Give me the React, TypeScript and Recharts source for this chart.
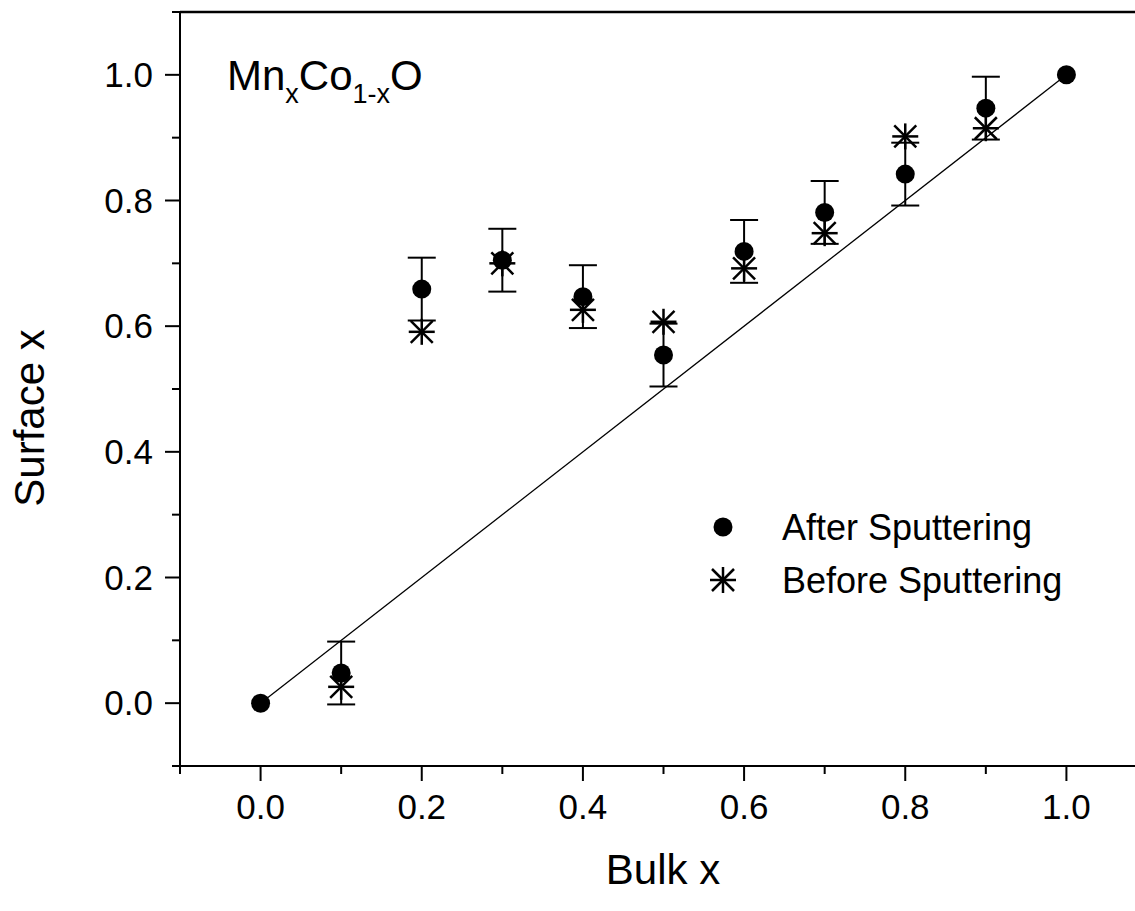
import { ScatterChart, Scatter, XAxis, YAxis, ErrorBar, ReferenceLine, Legend, Customized } from 'recharts'

const bulkX = [0.1, 0.2, 0.3, 0.4, 0.5, 0.6, 0.7, 0.8, 0.9]
const afterY = [0.048, 0.659, 0.705, 0.647, 0.554, 0.719, 0.781, 0.842, 0.947]
const afterErr = [0.05, 0.05, 0.05, 0.05, 0.05, 0.05, 0.05, 0.05, 0.05]
const beforeY = [0.026, 0.591, 0.7, 0.626, 0.607, 0.692, 0.748, 0.902, 0.915]
const endX = [0, 1.0]
const endY = [0, 1.0]
const fitX = [0, 1]
const fitY = [0, 1]
const axisTicks = [-0.1, 0, 0.1, 0.2, 0.3, 0.4, 0.5, 0.6, 0.7, 0.8, 0.9, 1.0, 1.1]
const seriesNames = ['After Sputtering', 'Before Sputtering']

const afterData = bulkX.map((x, i) => ({ x, y: afterY[i], err: afterErr[i] }))
const beforeData = bulkX.map((x, i) => ({ x, y: beforeY[i] }))
const endData = endX.map((x, i) => ({ x, y: endY[i] }))
const fitSegment = fitX.map((x, i) => ({ x, y: fitY[i] }))

const font = '"Liberation Sans", Arial, Helvetica, sans-serif'
const isMajor = (v: number) => Math.round(v * 10) % 2 === 0

function XTick({ x, y, payload }: any) {
  const major = isMajor(payload.value)
  return (
    <g>
      <line x1={x} x2={x} y1={y} y2={y + (major ? 15 : 8)} stroke="#000" strokeWidth={2} />
      {major && (
        <text x={x} y={y + 53} textAnchor="middle" fontSize={35} fontFamily={font} fill="#000">
          {payload.value.toFixed(1)}
        </text>
      )}
    </g>
  )
}

function YTick({ x, y, payload }: any) {
  const major = isMajor(payload.value)
  return (
    <g>
      <line x1={x - (major ? 15 : 8)} x2={x} y1={y} y2={y} stroke="#000" strokeWidth={2} />
      {major && (
        <text x={x - 27} y={y + 12} textAnchor="end" fontSize={35} fontFamily={font} fill="#000">
          {payload.value.toFixed(1)}
        </text>
      )}
    </g>
  )
}

function Dot({ cx, cy }: any) {
  return <circle cx={cx} cy={cy} r={9.5} fill="#000" />
}

function Star({ cx, cy }: any) {
  return (
    <g stroke="#000" strokeWidth={2.5}>
      <line x1={cx - 13} x2={cx + 13} y1={cy} y2={cy} />
      <line x1={cx} x2={cx} y1={cy - 13} y2={cy + 13} />
      <line x1={cx - 11} x2={cx + 11} y1={cy - 11} y2={cy + 11} />
      <line x1={cx - 11} x2={cx + 11} y1={cy + 11} y2={cy - 11} />
    </g>
  )
}

function LegendBox() {
  return (
    <svg width={440} height={110}>
      <Dot cx={33} cy={32} />
      <text x={92} y={45} fontSize={36} fontFamily={font} fill="#000">{seriesNames[0]}</text>
      <Star cx={33} cy={85} />
      <text x={92} y={98} fontSize={36} fontFamily={font} fill="#000">{seriesNames[1]}</text>
    </svg>
  )
}

function Titles() {
  return (
    <g fontFamily={font} fill="#000">
      <text x={227} y={90} fontSize={42}>
        Mn
        <tspan fontSize={27} dy={13}>x</tspan>
        <tspan fontSize={42} dy={-13}>Co</tspan>
        <tspan fontSize={27} dy={13}>1-x</tspan>
        <tspan fontSize={42} dy={-13}>O</tspan>
      </text>
      <text x={663} y={884} fontSize={42} textAnchor="middle">Bulk x</text>
      <text x={44} y={418} fontSize={42} textAnchor="middle" transform="rotate(-90, 44, 418)">Surface x</text>
    </g>
  )
}

export default function App() {
  return (
    <div style={{ position: 'absolute', left: 0, top: 0, width: 1135, height: 911, overflow: 'hidden', background: '#fff' }}>
      <ScatterChart width={1160} height={911} margin={{ top: 12, right: 13, bottom: 0, left: 0 }}>
        <XAxis
          type="number"
          dataKey="x"
          domain={[-0.1, 1.1]}
          ticks={axisTicks}
          interval={0}
          allowDataOverflow
          tick={XTick}
          tickLine={false}
          tickSize={0}
          tickMargin={0}
          height={145}
          axisLine={{ stroke: '#000', strokeWidth: 2 }}
        />
        <YAxis
          type="number"
          dataKey="y"
          domain={[-0.1, 1.1]}
          ticks={axisTicks}
          interval={0}
          allowDataOverflow
          tick={YTick}
          tickLine={false}
          tickSize={0}
          tickMargin={0}
          width={180}
          axisLine={{ stroke: '#000', strokeWidth: 2 }}
        />
        <ReferenceLine y={1.1} stroke="#000" strokeWidth={2.5} />
        <ReferenceLine x={1.1} stroke="#000" strokeWidth={2.5} />
        <ReferenceLine segment={fitSegment} stroke="#000" strokeWidth={1.3} />
        <Scatter data={endData} shape={Dot} legendType="none" isAnimationActive={false} />
        <Scatter name={seriesNames[0]} data={afterData} shape={Dot} isAnimationActive={false}>
          <ErrorBar dataKey="err" direction="y" width={14} stroke="#000" strokeWidth={2} />
        </Scatter>
        <Scatter name={seriesNames[1]} data={beforeData} shape={Star} isAnimationActive={false} />
        <Legend
          layout="vertical"
          align="center"
          verticalAlign="middle"
          wrapperStyle={{ left: 690, top: 495, width: 440 }}
          content={LegendBox}
        />
        <Customized component={Titles} />
      </ScatterChart>
    </div>
  )
}
